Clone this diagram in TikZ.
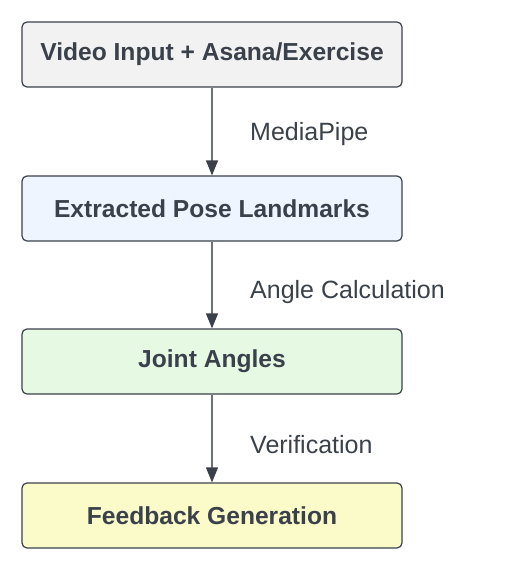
\documentclass[tikz,border=0pt]{standalone}
\usepackage{fontspec}
\setmainfont{Liberation Sans}
\usetikzlibrary{arrows.meta}
\definecolor{ink}{HTML}{3A414A}
\definecolor{wire}{HTML}{6E737B}
\definecolor{fillA}{HTML}{F2F2F2}
\definecolor{fillB}{HTML}{EEF5FF}
\definecolor{fillC}{HTML}{E6FAE3}
\definecolor{fillD}{HTML}{FBFAC9}
\tikzset{
  stagebox/.style={draw=ink, line width=1.2pt, rounded corners=5pt, minimum width=380pt, minimum height=65pt, inner sep=0pt, font=\fontsize{24.6}{28}\selectfont\bfseries, text=ink},
  flowarrow/.style={draw=wire, line width=1.3pt, -{Triangle[length=15pt,width=12pt,color=ink]}},
  steplabel/.style={font=\fontsize{25}{29}\selectfont, text=ink, anchor=west, inner sep=0pt}
}
\begin{document}
\begin{tikzpicture}[x=1pt,y=-1pt]
\useasboundingbox (0,0) rectangle (513,570);
\node[stagebox, fill=fillA] (a) at (212,54.5) {Video Input + Asana/Exercise};
\node[stagebox, fill=fillB] (b) at (212,208.5) {Extracted Pose Landmarks};
\node[stagebox, fill=fillC] (c) at (212,361.5) {Joint Angles};
\node[stagebox, fill=fillD] (d) at (212,515.5) {Feedback Generation};
\draw[flowarrow] (a) -- (b);
\draw[flowarrow] (b) -- (c);
\draw[flowarrow] (c) -- (d);
\node[steplabel] (la) at (250,134) {MediaPipe};
\node[steplabel] (lb) at (250,292) {Angle Calculation};
\node[steplabel] (lc) at (250,445) {Verification};
\end{tikzpicture}
\end{document}
